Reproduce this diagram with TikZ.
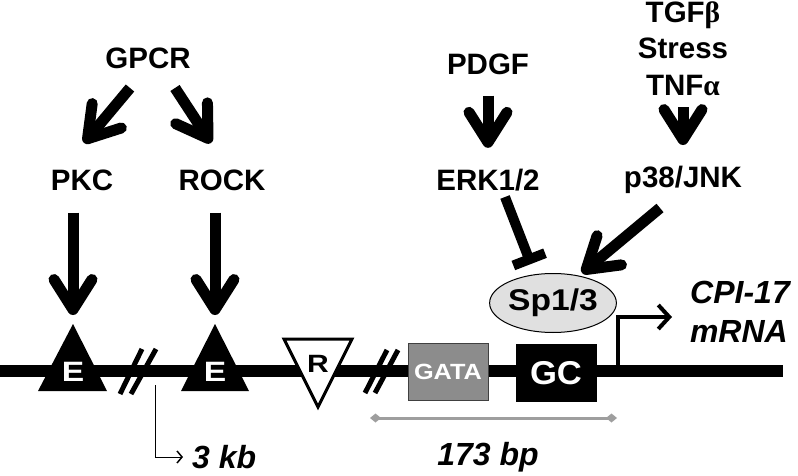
\documentclass[tikz,border=0pt]{standalone}
\usepackage{fontspec}
\setmainfont{Liberation Sans}
\newfontfamily\grk{Liberation Serif}
\usetikzlibrary{arrows.meta,shapes.geometric,calc}
\newcommand{\wfont}[2]{\fontsize{#1}{#1}\selectfont\bfseries\addfontfeature{FakeStretch=#2}}
\begin{document}
\begin{tikzpicture}[x=1pt,y=-1pt,
  lbl/.style={font=\fontsize{29.5}{32}\selectfont\bfseries, inner sep=0pt, anchor=center},
  ital/.style={font=\fontsize{32}{36}\selectfont\bfseries\itshape, inner sep=0pt, align=center},
  bigarrow/.style={line width=11pt, -{Straight Barb[length=30pt,width=38pt,round]}},
  inhib/.style={line width=10pt, -{Bar[width=34pt]}},
  brk/.style={line width=5pt},
  dna/.style={line width=12pt},
]
\useasboundingbox (0,0) rectangle (798,476);

% labels
\node[lbl] (gpcr) at (148,58) {GPCR};
\node[lbl] (pkc) at (82,180) {PKC};
\node[lbl] (rock) at (222,180) {ROCK};
\node[lbl] (pdgf) at (488,64) {PDGF};
\node[lbl] (erk) at (488,180) {ERK1/2};
\node[lbl] (tgf) at (683,15) {TGF{\grk β}};
\node[lbl] (stress) at (683,48) {Stress};
\node[lbl] (tnf) at (683,85) {TNF{\grk α}};
\node[lbl] (p38) at (683,180) {p38/JNK};

% DNA line
\coordinate (dnaL) at (0,371);
\coordinate (dnaR) at (783,371);
\draw[dna] (dnaL) -- (dnaR);

% break marks
\draw[brk] (120,394) -- (142,349);
\draw[brk] (131,394) -- (156,349);
\draw[brk] (365,393) -- (387,350);
\draw[brk] (375,393) -- (398,350);

% E triangles
\fill (73,324) -- (107,391) -- (38,391) -- cycle;
\node[inner sep=0pt, text=white, font=\wfont{28}{1.2}] (e1) at (73,372) {E};
\fill (215,324) -- (249,391) -- (181,391) -- cycle;
\node[inner sep=0pt, text=white, font=\wfont{28}{1.2}] (e2) at (215,372) {E};
\coordinate (e1top) at (73,324);
\coordinate (e2top) at (215,324);

% R triangle
\draw[line width=3pt, fill=white, line join=miter] (284,339) -- (352,339) -- (318,407) -- cycle;
\node[inner sep=0pt, font=\wfont{25}{1.2}] (r) at (318,364) {R};

% GATA and GC boxes
\node[draw=black!75, line width=1pt, fill=black!45, minimum width=80pt, minimum height=57pt, inner sep=0pt,
  text=white, font=\wfont{22}{1.15}] (gata) at (448,371.5) {GATA};
\node[draw=black, line width=1pt, fill=black, minimum width=80pt, minimum height=57pt, inner sep=0pt,
  text=white, font=\wfont{33}{1.05}] (gc) at (556,373) {GC};

% Sp1/3
\node[ellipse, draw=black, line width=1pt, fill=black!12, minimum width=104pt, minimum height=59pt, inner sep=0pt,
  font=\wfont{30}{1.12}] (sp) at (553,303) {Sp1/3};

% transcription start
\coordinate (tss) at (618,366);
\coordinate (tssend) at (672,317);
\draw[line width=4pt, line cap=butt, -{Straight Barb[length=11pt,width=24pt,line width=4pt]}] (tss) |- (tssend);
\node[ital, anchor=east] (cpi) at (790,292) {CPI-17};
\node[ital, anchor=east] (mrna) at (788,331) {mRNA};

% 173 bp bar
\coordinate (bpL) at (370,418);
\coordinate (bpR) at (617,418);
\draw[line width=3pt, black!38, {Diamond[width=9pt,length=11pt]}-{Diamond[width=9pt,length=11pt]}] (bpL) -- (bpR);
\node[ital] (bp) at (488,457) {173 bp};

% 3 kb pointer
\coordinate (kbtop) at (155,385);
\coordinate (kbend) at (183,457);
\draw[line width=1pt, -{Straight Barb[length=5pt,width=12pt,line width=1.5pt]}] (kbtop) |- (kbend);
\node[ital, anchor=west] (kb) at (192,457) {3 kb};

% signalling arrows
\coordinate (g1s) at (130,88); \coordinate (g1e) at (84,143);
\coordinate (g2s) at (175,88); \coordinate (g2e) at (211,143);
\draw[bigarrow] (g1s) -- (g1e);
\draw[bigarrow] (g2s) -- (g2e);
\draw[bigarrow, shorten <=22pt] (pkc.south -| e1top) -- ([yshift=9pt]e1top);
\draw[bigarrow, shorten <=22pt] (rock.south -| e2top) -- ([yshift=9pt]e2top);
\draw[bigarrow] ([yshift=-21pt]pdgf.south) -- ([yshift=21pt]erk.north);
\draw[bigarrow] ([yshift=-12pt]tnf.south) -- ([yshift=21pt]p38.north);
\coordinate (inhS) at (505,197);
\coordinate (inhE) at (531,264);
\draw[inhib] (inhS) -- (inhE);
\coordinate (p38S) at (660,208);
\coordinate (p38E) at (582,273);
\draw[bigarrow] (p38S) -- (p38E);
\end{tikzpicture}
\end{document}
